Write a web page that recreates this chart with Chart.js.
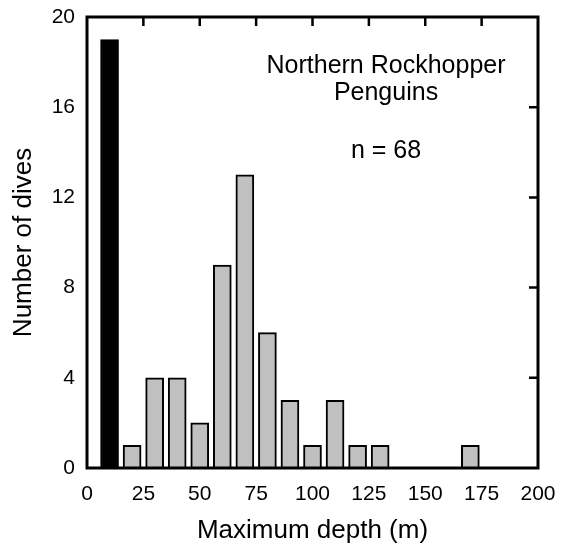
<!DOCTYPE html>
<html>
<head>
<meta charset="utf-8">
<script src="https://cdn.jsdelivr.net/npm/chart.js@4"></script>
<style>
  html, body { margin: 0; padding: 0; background: #fff; }
  #wrap { width: 574px; height: 546px; }
</style>
</head>
<body>
<div id="wrap"><canvas id="diveChart" width="574" height="546"></canvas></div>
<script>
// bin centres (m) and dive counts
const depthBins  = [10, 20, 30, 40, 50, 60, 70, 80, 90, 100, 110, 120, 130, 170];
const diveCounts = [19, 1, 4, 4, 2, 9, 13, 6, 3, 1, 3, 1, 1, 1];
const xTickValues = [0, 25, 50, 75, 100, 125, 150, 175, 200];
const yTickValues = [0, 4, 8, 12, 16, 20];
const noteLines = ['Northern Rockhopper', 'Penguins', 'n = 68'];
const noteYValues = [17.5, 16.3, 13.75];

const FONT = '"Liberation Sans", Arial, sans-serif';

// box frame + inward ticks on top and right edges
const frameTicks = {
    id: 'frameTicks',
    afterDatasetsDraw(chart) {
        const { ctx, chartArea: a, scales: { x, y } } = chart;
        ctx.save();
        ctx.strokeStyle = '#000';
        ctx.lineWidth = 3;
        ctx.strokeRect(a.left, a.top, a.right - a.left, a.bottom - a.top);
        ctx.lineWidth = 2.5;
        ctx.beginPath();
        xTickValues.slice(1, -1).forEach(v => {
            const px = x.getPixelForValue(v);
            ctx.moveTo(px, a.top);
            ctx.lineTo(px, a.top + 9);
        });
        yTickValues.slice(1, -1).forEach(v => {
            const py = y.getPixelForValue(v);
            ctx.moveTo(a.right, py);
            ctx.lineTo(a.right - 9, py);
        });
        ctx.stroke();

        // note text in the upper right
        ctx.fillStyle = '#000';
        ctx.font = '25px ' + FONT;
        ctx.textAlign = 'center';
        ctx.textBaseline = 'alphabetic';
        const cx = x.getPixelForValue(132.6);
        noteLines.forEach((t, i) => {
            ctx.fillText(t, cx, y.getPixelForValue(noteYValues[i]));
        });
        ctx.restore();
    }
};

const ctx = document.getElementById('diveChart').getContext('2d');
const diveChart = new Chart(ctx, {
    type: 'bar',
    data: {
        datasets: [{
            data: depthBins.map((d, i) => ({ x: d, y: diveCounts[i] })),
            backgroundColor: c => c.dataIndex === 0 ? '#000' : '#c0c0c0',
            borderColor: '#000',
            borderWidth: 2,
            barThickness: 18
        }]
    },
    options: {
        responsive: false,
        animation: false,
        layout: { padding: { top: 17, right: 36, left: 0, bottom: 0 } },
        plugins: { legend: { display: false }, tooltip: { enabled: false } },
        scales: {
            x: {
                type: 'linear',
                offset: false,
                min: 0,
                max: 200,
                grid: { display: false, drawTicks: false },
                border: { display: false },
                afterFit: s => { s.height = 78; s.paddingLeft = 0; s.paddingRight = 0; },
                afterBuildTicks: s => { s.ticks = xTickValues.map(v => ({ value: v })); },
                ticks: { color: '#000', font: { family: FONT, size: 21 }, padding: 14, maxRotation: 0 },
                title: { display: true, text: 'Maximum depth (m)', color: '#000', font: { family: FONT, size: 26 }, padding: { top: 0, bottom: 0 } }
            },
            y: {
                min: 0,
                max: 20,
                grid: { display: false, drawTicks: false },
                border: { display: false },
                afterFit: s => { s.width = 87; s.paddingTop = 0; s.paddingBottom = 0; },
                afterBuildTicks: s => { s.ticks = yTickValues.map(v => ({ value: v })); },
                ticks: { color: '#000', font: { family: FONT, size: 21 }, padding: 12 },
                title: { display: true, text: 'Number of dives', color: '#000', font: { family: FONT, size: 26 }, padding: { top: 8, bottom: 0 } }
            }
        }
    },
    plugins: [frameTicks]
});
</script>
</body>
</html>
